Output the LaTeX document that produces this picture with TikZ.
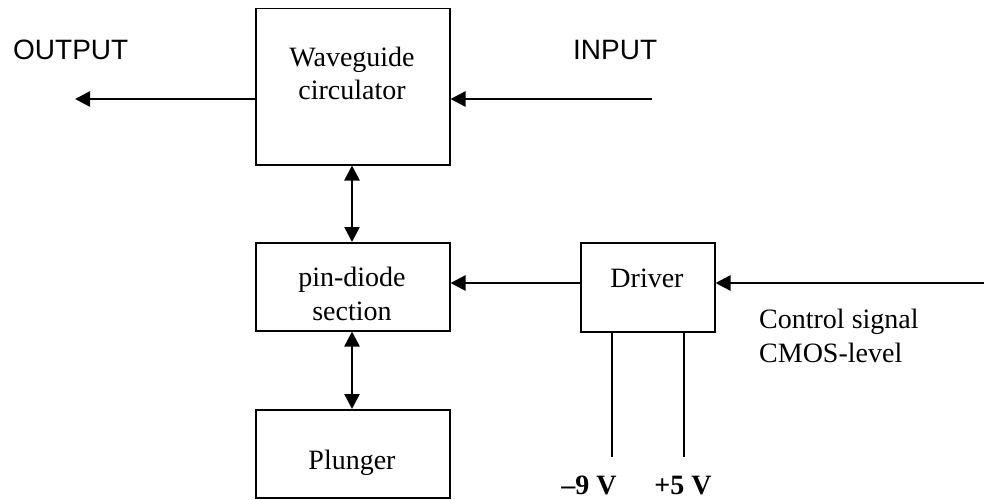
\documentclass[tikz,border=0pt]{standalone}
\usepackage{fontspec}
\setmainfont{Liberation Serif}
\newfontfamily\arialfont{Liberation Sans}
\usetikzlibrary{arrows.meta}
\begin{document}
\begin{tikzpicture}[x=1pt,y=-1pt,
  blockbox/.style={draw=black,line width=1.5pt,inner sep=0pt,anchor=north west},
  txt/.style={inner sep=0pt,anchor=base,font=\fontsize{28}{33}\selectfont},
  sftxt/.style={inner sep=0pt,anchor=base west,font=\arialfont\fontsize{28}{33}\selectfont},
  conn/.style={line width=2.6pt,-{Triangle[length=15pt,width=15pt]}},
  dconn/.style={line width=2.6pt,{Triangle[length=15pt,width=15pt]}-{Triangle[length=15pt,width=15pt]}},
  supply/.style={line width=1.6pt}]
\useasboundingbox (0,0) rectangle (984,500);
% boxes
\node[blockbox,minimum width=194pt,minimum height=156pt] (wg) at (255,8) {};
\node[blockbox,minimum width=194pt,minimum height=88pt] (pin) at (255,242) {};
\node[blockbox,minimum width=194pt,minimum height=88pt] (pl) at (255,409) {};
\node[blockbox,minimum width=134pt,minimum height=89pt] (drv) at (580,242) {};
% box texts
\node[txt] (wgt1) at (352,67) {Waveguide};
\node[txt] (wgt2) at (352,100) {circulator};
\node[txt] (pint1) at (352,286) {pin-diode};
\node[txt] (pint2) at (352,320) {section};
\node[txt] (plt) at (352,469) {Plunger};
\node[txt] (drvt) at (647,287) {Driver};
% labels
\node[sftxt] (outl) at (13,60) {OUTPUT};
\node[sftxt] (inl) at (573,60) {INPUT};
\node[txt,anchor=base west] (cs1) at (759,328) {Control signal};
\node[txt,anchor=base west] (cs2) at (759,362) {CMOS-level};
\node[txt,font=\bfseries\fontsize{28}{33}\selectfont] (m9) at (589,494) {–9 V};
\node[txt,font=\bfseries\fontsize{28}{33}\selectfont] (p5) at (683,494) {+5 V};
% coordinates
\coordinate (outend) at (75,99);
\coordinate (inend) at (652,99);
\coordinate (ctlend) at (984,283);
\coordinate (s1) at (612,457);
\coordinate (s2) at (684,457);
% connectors
\draw[conn] (wg.west |- outend) -- (outend);
\draw[conn] (inend) -- (wg.east |- inend);
\draw[dconn] (wg.south -| wgt1) -- (pin.north -| wgt1);
\draw[dconn] (pin.south -| wgt1) -- (pl.north -| wgt1);
\draw[conn] (drv.west |- ctlend) -- (pin.east |- ctlend);
\draw[conn] (ctlend) -- (drv.east |- ctlend);
\draw[supply] (drv.south -| s1) -- (s1);
\draw[supply] (drv.south -| s2) -- (s2);
\end{tikzpicture}
\end{document}
